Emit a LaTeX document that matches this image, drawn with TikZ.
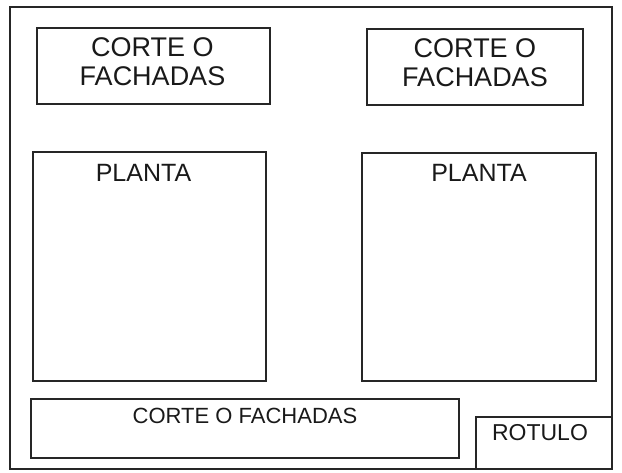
\documentclass[tikz,border=0pt]{standalone}
\usepackage{fontspec}
\setmainfont{Liberation Sans}
\tikzset{
  marco/.style={draw=black!85, line width=1.2pt, inner sep=0pt, outer sep=0pt},
  rotulo/.style={inner sep=0pt, align=center, text=black!90}
}
\begin{document}
\begin{tikzpicture}[x=1pt, y=-1pt]
	\useasboundingbox (0,0) rectangle (622,473);
	% hoja y recuadros
	\node[marco, minimum width=602pt, minimum height=462pt] (hoja) at (311,238) {};
	\node[marco, minimum width=233pt, minimum height=76pt] (corte1) at (153.5,66) {};
	\node[marco, minimum width=216pt, minimum height=76pt] (corte2) at (475,67) {};
	\node[marco, minimum width=233pt, minimum height=229pt] (planta1) at (149.5,266.5) {};
	\node[marco, minimum width=234pt, minimum height=228pt] (planta2) at (479,267) {};
	\node[marco, minimum width=428pt, minimum height=59pt] (corte3) at (245,428.5) {};
	\node[marco, minimum width=136pt, minimum height=52pt] (cajetin) at (544,443) {};

	% textos
	\node[rotulo, font=\fontsize{27}{29}\selectfont] (t1) at (152.5,61.5) {CORTE O\\FACHADAS};
	\node[rotulo, font=\fontsize{27}{29}\selectfont] (t2) at (475,63) {CORTE O\\FACHADAS};
	\node[rotulo, font=\fontsize{25}{27}\selectfont] (t3) at (143.5,172.5) {PLANTA};
	\node[rotulo, font=\fontsize{25}{27}\selectfont] (t4) at (479,173) {PLANTA};
	\node[rotulo, font=\fontsize{22}{24}\selectfont] (t5) at (245,415.5) {CORTE O FACHADAS};
	\node[rotulo, font=\fontsize{23}{25}\selectfont] (t6) at (540,432.5) {ROTULO};
\end{tikzpicture}
\end{document}
